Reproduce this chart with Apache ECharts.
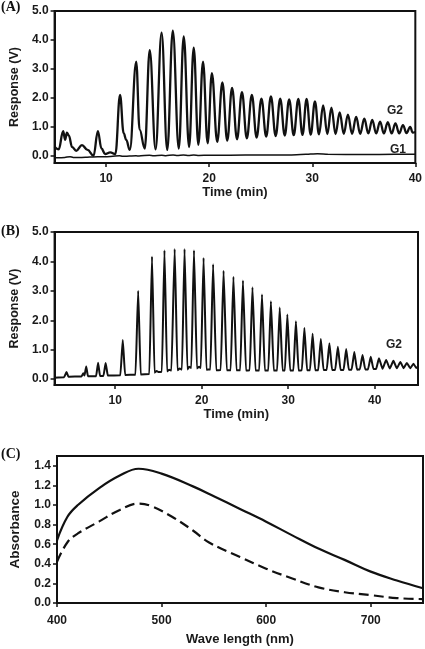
<!DOCTYPE html>
<html>
<head>
<meta charset="utf-8">
<script src="https://cdn.jsdelivr.net/npm/echarts@6/dist/echarts.min.js"></script>
<style>
html,body{margin:0;padding:0;background:#fff;}
#chart{width:425px;height:649px;}
</style>
</head>
<body>
<div id="chart"></div>
<script>
// ---------- Panel A (Time vs Response), G2 trace vertices ----------
var aTimes = [5.0,5.4,5.83,6.03,6.19,6.38,6.7,7.1,7.66,8.2,8.78,9.2,9.55,9.9,10.4,10.9,
  11.35,11.7,11.95,12.3,12.92,13.25,13.75,14.23,14.8,15.38,15.93,16.47,17.05,17.53,18.05,18.5,18.95,19.4,19.85,
  20.26,20.78,21.28,21.75,22.22,22.7,23.18,23.65,24.14,24.6,25.07,25.53,25.99,26.45,26.89,27.33,27.76,28.2,
  28.65,29.05,29.45,29.85,30.26,30.65,31.06,31.46,31.86,32.26,32.66,33.06,33.46,33.86,34.26,34.65,35.05,35.44,
  35.82,36.2,36.58,36.95,37.33,37.7,38.07,38.44,38.8,39.15,39.5,39.75,40.0];
var aResponseG2 = [0.31,0.22,0.85,0.55,0.80,0.70,0.30,0.17,0.37,0.20,0.0,0.85,0.25,0.06,0.12,0.06,
  2.10,0.78,0.55,0.20,3.25,0.90,0.25,3.65,0.22,4.25,0.20,4.32,0.25,4.12,0.30,3.73,0.38,3.25,0.43,
  2.85,0.48,2.53,0.52,2.34,0.57,2.20,0.60,2.10,0.63,1.97,0.66,2.05,0.68,1.97,0.70,1.95,0.71,
  1.96,0.72,1.96,0.73,1.88,0.74,1.74,0.75,1.66,0.75,1.50,0.76,1.42,0.76,1.34,0.76,1.28,0.77,
  1.24,0.77,1.18,0.77,1.16,0.77,1.12,0.77,1.06,0.78,1.00,0.80,0.82];
var aTimesG1 = [5,6,6.5,6.8,8,9.2,10,11.3,11.6,12.9,13.2,14.2,14.6,15.4,15.8,16.5,16.9,17.5,18,18.5,19,20,22,25,28,29.5,30.5,31.5,35,38,40];
var aResponseG1 = [-0.07,-0.06,-0.03,-0.06,-0.05,-0.03,-0.03,0.0,-0.02,0.0,-0.01,0.02,0.0,0.02,0.0,0.03,0.01,0.03,0.01,0.03,0.01,0.02,0.02,0.03,0.03,0.05,0.07,0.05,0.04,0.05,0.05];

// ---------- Panel B, G2 trace vertices ----------
var bTimes = [3.0,4.1,4.38,4.6,6.1,6.32,6.45,6.66,6.85,7.8,8.03,8.25,8.65,8.9,9.15,10.6,10.88,11.15,12.35,12.66,12.95,
  13.95,14.26,14.55,14.8,15.0,15.4,15.7,16.0,16.25,16.5,16.88,17.2,17.45,17.72,18.02,18.35,18.55,18.8,19.11,19.45,19.7,19.9,
  20.22,20.55,21.0,21.32,21.68,22.2,22.53,22.9,23.35,23.67,24.02,24.45,24.77,25.12,25.55,25.87,26.22,26.65,26.97,27.3,27.7,
  28.0,28.33,28.72,29.02,29.35,29.62,29.9,30.22,30.6,30.89,31.2,31.58,31.87,32.18,32.52,32.82,33.12,33.47,33.77,34.08,34.45,
  34.76,35.07,35.43,35.74,36.05,36.4,36.7,37.0,37.33,37.64,37.95,38.28,38.59,38.9,39.22,39.54,39.85,40.15,40.49,40.9,41.32,
  41.74,42.16,42.56,42.96,43.34,43.71,44.1,44.48,44.8,45.0];
var bResponse = [0.05,0.06,0.24,0.08,0.09,0.20,0.12,0.43,0.10,0.10,0.56,0.11,0.11,0.55,0.12,0.13,1.33,0.14,0.15,3.00,0.16,
  0.17,4.17,0.22,0.28,0.24,0.25,4.38,0.26,0.32,0.29,4.42,0.30,0.36,0.33,4.42,0.33,0.42,0.38,4.38,0.36,0.42,0.38,
  4.12,0.32,0.33,3.90,0.30,0.31,3.68,0.30,0.30,3.48,0.30,0.30,3.35,0.29,0.30,3.12,0.29,0.29,2.88,0.29,0.29,
  2.65,0.29,0.29,2.43,0.29,0.29,2.20,0.29,0.29,1.97,0.29,0.30,1.74,0.30,0.30,1.54,0.30,0.30,1.36,0.31,0.31,
  1.22,0.31,0.31,1.10,0.31,0.31,1.02,0.32,0.32,0.92,0.32,0.33,0.82,0.33,0.33,0.76,0.34,0.34,0.71,0.35,0.65,
  0.36,0.62,0.37,0.58,0.37,0.55,0.37,0.52,0.38,0.42];

// ---------- Panel C (absorbance spectra) ----------
var wlSolid = [400,410,420,440,460,478,500,530,550,575,600,625,650,675,700,725,750];
var absSolid = [0.64,0.88,1.00,1.17,1.30,1.37,1.32,1.19,1.09,0.96,0.83,0.69,0.555,0.44,0.32,0.23,0.15];
var wlDashed = [400,410,420,440,460,478,490,510,530,545,575,600,625,650,675,700,725,750];
var absDashed = [0.42,0.62,0.71,0.83,0.95,1.015,0.99,0.88,0.74,0.62,0.47,0.35,0.25,0.16,0.11,0.08,0.05,0.04];

// ---------- Tick labels ----------
var ticksTimeA = [10,20,30,40];
var ticksTimeB = [10,20,30,40];
var ticksResp = [0,1,2,3,4,5];
var ticksWave = [400,500,600,700];
var ticksAbs = [0,0.2,0.4,0.6,0.8,1.0,1.2,1.4];

function pairs(xs, ys){ return xs.map(function(x,i){return [x, ys[i]];}); }

var INK = '#111';
var FONT = "'Liberation Sans', Arial, sans-serif";
var lbl = {fontFamily: FONT, fontWeight: 'bold', fontSize: 12, color: '#1a1a1a'};

function xAx(grid, min, max, ticks, name, gap, margin){
  return {type:'value', gridIndex:grid, min:min, max:max,
    name:name, nameLocation:'middle', nameGap:gap,
    nameTextStyle:{fontFamily:FONT, fontWeight:'bold', fontSize:13, color:'#1a1a1a'},
    axisLine:{show:true, onZero:false, lineStyle:{color:INK, width:2}},
    axisTick:{show:true, customValues:ticks, length:4, lineStyle:{color:INK, width:1.5}},
    axisLabel:Object.assign({customValues:ticks, margin:margin}, lbl),
    splitLine:{show:false}};
}
function yAx(grid, min, max, ticks, name, gap, digits, fs){
  return {type:'value', gridIndex:grid, min:min, max:max,
    name:name, nameLocation:'middle', nameGap:gap,
    nameTextStyle:{fontFamily:FONT, fontWeight:'bold', fontSize:fs, color:'#1a1a1a'},
    axisLine:{show:true, onZero:false, lineStyle:{color:INK, width:2}},
    axisTick:{show:true, customValues:ticks, length:4, lineStyle:{color:INK, width:1.5}},
    axisLabel:Object.assign({customValues:ticks, margin:6, formatter:function(v){return v.toFixed(digits);}}, lbl),
    splitLine:{show:false}};
}

var option = {
  animation:false,
  backgroundColor:'#fff',
  grid:[
    {left:54, top:11, width:364, height:152, show:true, borderColor:INK, borderWidth:2, backgroundColor:'transparent'},
    {left:52, top:232, width:366, height:153, show:true, borderColor:INK, borderWidth:2, backgroundColor:'transparent'},
    {left:56, top:456, width:367, height:147, show:true, borderColor:INK, borderWidth:2, backgroundColor:'transparent'}
  ],
  xAxis:[
    xAx(0, 5, 40, ticksTimeA, 'Time (min)', 23, 10),
    xAx(1, 3, 45, ticksTimeB, 'Time (min)', 23, 10),
    xAx(2, 400, 750, ticksWave, 'Wave length (nm)', 30, 12)
  ],
  yAxis:[
    yAx(0, -0.25, 5, ticksResp, 'Response (V)', 29, 1, 12.5),
    yAx(1, -0.2, 5, ticksResp, 'Response (V)', 32, 1, 12.5),
    yAx(2, 0, 1.5, ticksAbs, 'Absorbance', 35, 1, 13.5)
  ],
  series:[
    {type:'line', xAxisIndex:0, yAxisIndex:0, data:pairs(aTimesG1, aResponseG1), showSymbol:false, smooth:0.2,
      lineStyle:{color:INK, width:1.5}},
    {type:'line', xAxisIndex:0, yAxisIndex:0, data:pairs(aTimes, aResponseG2), showSymbol:false, smooth:0.4, smoothMonotone:'x',
      lineStyle:{color:INK, width:2.3}},
    {type:'line', xAxisIndex:1, yAxisIndex:1, data:pairs(bTimes, bResponse), showSymbol:false, smooth:0.15, smoothMonotone:'x',
      lineStyle:{color:INK, width:2}},
    {type:'line', xAxisIndex:2, yAxisIndex:2, data:pairs(wlSolid, absSolid), showSymbol:false, smooth:0.4,
      lineStyle:{color:INK, width:2.2}},
    {type:'line', xAxisIndex:2, yAxisIndex:2, data:pairs(wlDashed, absDashed), showSymbol:false, smooth:0.4,
      lineStyle:{color:INK, width:2.2, type:[10,5]}}
  ],
  graphic:[
    {type:'text', left:1, top:0, style:{text:'(A)', font:"bold 14px 'Liberation Serif', 'Times New Roman', serif", fill:'#111'}},
    {type:'text', left:1, top:224, style:{text:'(B)', font:"bold 14px 'Liberation Serif', 'Times New Roman', serif", fill:'#111'}},
    {type:'text', left:1, top:447, style:{text:'(C)', font:"bold 14px 'Liberation Serif', 'Times New Roman', serif", fill:'#111'}},
    {type:'text', left:387, top:105, style:{text:'G2', font:"bold 12px 'Liberation Sans', Arial, sans-serif", fill:'#222'}},
    {type:'text', left:390, top:144, style:{text:'G1', font:"bold 12px 'Liberation Sans', Arial, sans-serif", fill:'#222'}},
    {type:'text', left:386, top:339, style:{text:'G2', font:"bold 12px 'Liberation Sans', Arial, sans-serif", fill:'#222'}}
  ]
};
var chart = echarts.init(document.getElementById('chart'), null, {renderer:'canvas'});
chart.setOption(option);
</script>
</body>
</html>
